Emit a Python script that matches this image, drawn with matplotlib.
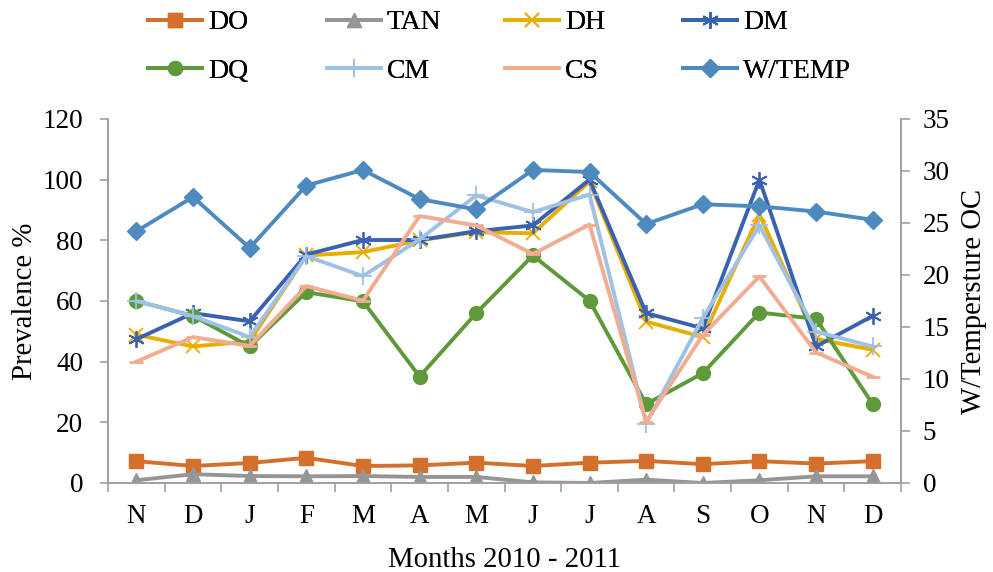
import matplotlib
matplotlib.use("Agg")
import matplotlib.pyplot as plt
import numpy as np

plt.rcParams['font.family'] = ['Liberation Serif', 'DejaVu Serif']

months = ["N", "D", "J", "F", "M", "A", "M", "J", "J", "A", "S", "O", "N", "D"]

DO  = [7.2, 5.6, 6.6, 8.3, 5.6, 5.8, 6.7, 5.6, 6.7, 7.3, 6.2, 7.2, 6.4, 7.2]
TAN = [0.9, 2.9, 2.3, 2.2, 2.3, 2.0, 2.0, 0.2, 0.0, 1.1, 0.0, 0.9, 2.2, 2.2]
DH  = [48.9, 45.0, 46.7, 75.0, 76.1, 80.0, 82.7, 82.3, 99.4, 53.2, 48.1, 88.5, 47.5, 43.9]
DM  = [47.4, 56.0, 53.3, 75.3, 80.1, 80.1, 83.0, 84.9, 100.0, 56.0, 51.0, 100.0, 45.0, 55.1]
DQ  = [60.0, 55.1, 45.0, 62.9, 59.9, 35.1, 56.0, 75.0, 60.1, 26.0, 36.2, 56.2, 54.1, 26.0]
CM  = [60.0, 55.0, 48.1, 74.8, 68.2, 80.3, 94.8, 89.3, 95.1, 19.6, 54.4, 84.9, 49.9, 45.0]
CS  = [40.0, 48.1, 45.2, 64.9, 60.1, 88.0, 84.9, 75.5, 85.2, 20.2, 48.8, 68.1, 43.0, 35.0]
WTEMP = [24.2, 27.5, 22.6, 28.6, 30.1, 27.3, 26.3, 30.1, 29.9, 24.9, 26.8, 26.6, 26.1, 25.3]

left_series = [
    ("DO", DO, "#D4702B", "s", 10, 1.0),
    ("TAN", TAN, "#969696", "^", 10, 1.0),
    ("DH", DH, "#E7AE00", "x", 10, 1.3),
    ("DM", DM, "#3B62AE", (6, 2, 0), 12, 1.3),
    ("DQ", DQ, "#5E9A3A", "o", 10, 1.0),
    ("CM", CM, "#9EC1E5", "+", 13, 1.3),
    ("CS", CS, "#F2AC91", "_", 10, 2.0),
]

FS = 20

fig = plt.figure(figsize=(9.93, 5.72), dpi=100)
ax = fig.add_axes([0.1088, 0.1556, 0.7986, 0.6364])
ax2 = ax.twinx()

x = np.arange(len(months))
handles = []
for name, vals, col, mk, ms, mew in left_series:
    h, = ax.plot(x, vals, color=col, lw=2.8, marker=mk, markersize=ms,
                 markeredgecolor=col, markerfacecolor=col, mew=mew, label=name)
    handles.append(h)
h, = ax2.plot(x, WTEMP, color="#4E8AC0", lw=2.8, marker="D", markersize=9.5,
              markeredgecolor="#4E8AC0", markerfacecolor="#4E8AC0", label="W/TEMP")
handles.append(h)

ax.set_xlim(-0.5, len(months) - 0.5)
ax.set_ylim(0, 120)
ax2.set_ylim(0, 35)
ax.set_yticks(np.arange(0, 121, 20))
ax2.set_yticks(np.arange(0, 36, 5))
ax.set_xticks(x)
ax.set_xticklabels(months)
ax.set_xticks(np.arange(-0.5, len(months), 1.0), minor=True)
ax.tick_params(axis='x', which='major', length=0, pad=15, labelsize=19.5)
ax.tick_params(axis='x', which='minor', length=6.5, color="#A0A0A0", width=1.2)
ax.tick_params(axis='y', length=6, color="#A0A0A0", width=1.2, labelsize=19.5, pad=12)
ax2.tick_params(axis='y', length=6.5, color="#A0A0A0", width=1.2, labelsize=19.5, pad=9)

for a in (ax, ax2):
    a.spines['top'].set_visible(False)
    for s in ('left', 'right', 'bottom'):
        a.spines[s].set_color("#A0A0A0")
        a.spines[s].set_linewidth(1.2)

ax.set_ylabel("Prevalence %", fontsize=20.7, labelpad=3)
ax2.set_ylabel("W/Tempersture OC", fontsize=20.7, labelpad=8)
ax.set_xlabel("Months 2010 - 2011", fontsize=20.7, labelpad=13)

# legend: four columns, each two rows (row1: DO TAN DH DM; row2: DQ CM CS W/TEMP)
columns = [(0, 4), (1, 5), (2, 6), (3, 7)]
col_x = [148, 327, 505, 683]
for (i, j), cx in zip(columns, col_x):
    leg = fig.legend([handles[i], handles[j]], [handles[i].get_label(), handles[j].get_label()],
                     loc='upper left', bbox_to_anchor=(cx / 993.0, 1 - 10 / 572.0),
                     frameon=False, fontsize=FS, handlelength=1.95, handletextpad=0.2,
                     borderpad=0, borderaxespad=0, labelspacing=0.83)
    fig.add_artist(leg)

fig.savefig("out.png", dpi=100)
